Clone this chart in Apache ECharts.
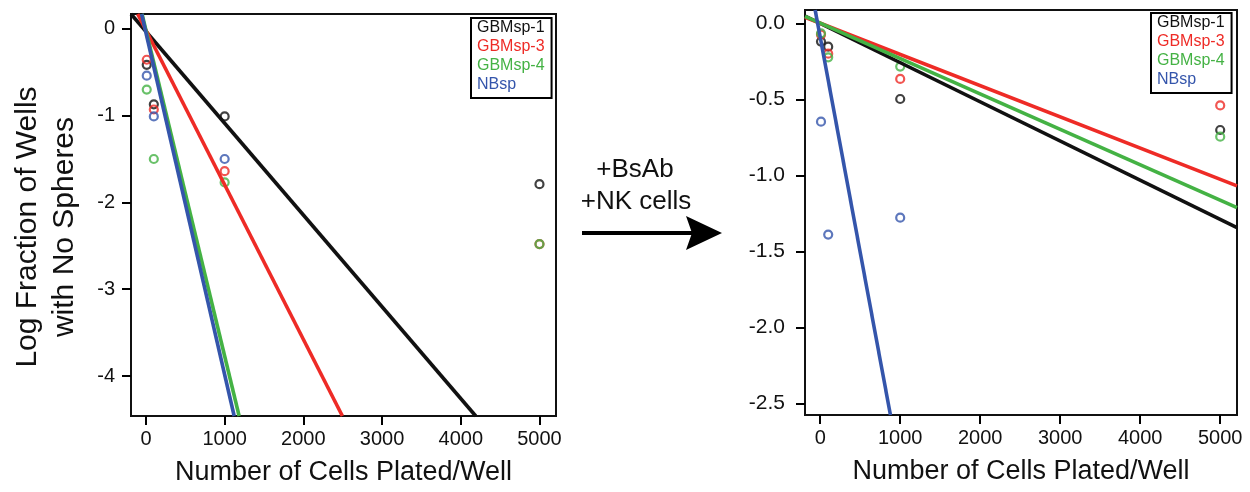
<!DOCTYPE html>
<html>
<head>
<meta charset="UTF-8">
<title>Limiting dilution</title>
<style>
  html, body { margin: 0; padding: 0; background: #fff; }
  #charts { width: 1250px; height: 492px; }
</style>
</head>
<body>
<div id="charts"></div>
<script src="https://cdn.jsdelivr.net/npm/echarts@6/dist/echarts.min.js"></script>
<script>
// cells plated per well
var cellsPlated = [10, 100, 1000, 5000];
var groups = ['GBMsp-1', 'GBMsp-3', 'GBMsp-4', 'NBsp'];
var groupColors = ['#111111', '#ee2b26', '#44b244', '#3455ab'];

// log fraction of wells with no spheres, untreated (left)
var ctrlGBM1 = [-0.415, -0.87, -1.01, -1.79];
var ctrlGBM3 = [-0.357, -0.93, -1.64, -2.48];
var ctrlGBM4 = [-0.70, -1.50, -1.77, -2.48];
var ctrlNB = [-0.54, -1.01, -1.50, null];

// +BsAb +NK cells (right)
var nkGBM1 = [-0.12, -0.154, -0.498, -0.702];
var nkGBM3 = [-0.075, -0.20, -0.366, -0.54];
var nkGBM4 = [-0.066, -0.224, -0.285, -0.746];
var nkNB = [-0.647, -1.39, -1.279, null];

// fitted lines, two end points each [x, y]
var ctrlFits = [
  [[-190, 0.17], [4190, -4.46]],
  [[-105, 0.17], [2496, -4.46]],
  [[-50, 0.17], [1184, -4.46]],
  [[-55, 0.17], [1121, -4.46]]
];
var nkFits = [
  [[-190, 0.048], [5210, -1.345]],
  [[-190, 0.04], [5210, -1.07]],
  [[-190, 0.045], [5210, -1.213]],
  [[-63, 0.0875], [878, -2.577]]
];

var xTicks = [0, 1000, 2000, 3000, 4000, 5000];
var ctrlYTicks = [0, -1, -2, -3, -4];
var nkYTicks = [0, -0.5, -1, -1.5, -2, -2.5];

var mycharts = echarts.init(document.getElementById('charts'));
var FONT = 'Liberation Sans, Arial, sans-serif';

function pts(ys) {
  var res = [];
  for (var i = 0; i < cellsPlated.length; i++) {
    if (ys[i] !== null) res.push([cellsPlated[i], ys[i]]);
  }
  return res;
}

function tickFor(values) {
  return { show: true, inside: false, length: 9, customValues: values.slice(), lineStyle: { color: '#000', width: 2 } };
}

function xAxisFor(idx) {
  return {
    type: 'value', gridIndex: idx, min: -190, max: 5210,
    name: 'Number of Cells Plated/Well', nameLocation: 'middle', nameGap: 43,
    nameTextStyle: { fontSize: 27, color: '#111', fontFamily: FONT },
    axisLine: { show: true, onZero: false, lineStyle: { color: '#111', width: 2 } },
    axisTick: tickFor(xTicks),
    axisLabel: { customValues: xTicks.slice(), margin: 13, fontSize: 20, color: '#111', fontFamily: FONT,
      formatter: function (v) { return String(v); } },
    splitLine: { show: false }
  };
}

var scatterSets = [[ctrlGBM1, ctrlGBM3, ctrlGBM4, ctrlNB], [nkGBM1, nkGBM3, nkGBM4, nkNB]];
var fitSets = [ctrlFits, nkFits];

var series = [];
for (var g = 0; g < 2; g++) {
  for (var i = 0; i < groups.length; i++) {
    series.push({
      name: groups[i], type: 'scatter', xAxisIndex: g, yAxisIndex: g,
      data: pts(scatterSets[g][i]),
      symbol: 'circle', symbolSize: 8, z: 2,
      itemStyle: { color: 'rgba(255,255,255,0)', borderColor: groupColors[i], borderWidth: 2.2 }
    });
  }
  for (var i = 0; i < groups.length; i++) {
    series.push({
      name: groups[i], type: 'line', xAxisIndex: g, yAxisIndex: g,
      data: fitSets[g][i], showSymbol: false, clip: true, z: 3,
      lineStyle: { color: groupColors[i], width: 3.6 },
      itemStyle: { color: groupColors[i] }
    });
  }
}

function legendFor(left, top) {
  return {
    left: left, top: top, orient: 'vertical',
    icon: 'none', itemWidth: 0, itemHeight: 16, itemGap: 3,
    padding: [2, 7, 5, 1],
    borderColor: '#000', borderWidth: 2, backgroundColor: '#fff',
    selectedMode: false,
    textStyle: { fontSize: 16, fontFamily: FONT },
    data: groups.map(function (n, i) { return { name: n, textStyle: { color: groupColors[i] } }; })
  };
}

option = {
  backgroundColor: '#fff',
  animation: false,
  grid: [
    { left: 131, top: 14, width: 425, height: 402, show: true, borderColor: '#111', borderWidth: 2,
      outerBoundsMode: 'none' },
    { left: 805, top: 10, width: 432, height: 405, show: true, borderColor: '#111', borderWidth: 2,
      outerBoundsMode: 'none' }
  ],
  xAxis: [xAxisFor(0), xAxisFor(1)],
  yAxis: [
    {
      type: 'value', gridIndex: 0, min: -4.46, max: 0.17,
      name: 'Log Fraction of Wells\nwith No Spheres', nameLocation: 'middle', nameGap: 48, nameRotate: 90,
      nameTextStyle: { fontSize: 30, lineHeight: 37, color: '#111', fontFamily: FONT, padding: [0, 24, 0, 0] },
      axisLine: { show: true, onZero: false, lineStyle: { color: '#111', width: 2 } },
      axisTick: tickFor(ctrlYTicks),
      axisLabel: { customValues: ctrlYTicks.slice(), margin: 16, fontSize: 20, color: '#111', fontFamily: FONT,
        formatter: function (v) { return String(v); } },
      splitLine: { show: false }
    },
    {
      type: 'value', gridIndex: 1, min: -2.577, max: 0.0875,
      axisLine: { show: true, onZero: false, lineStyle: { color: '#111', width: 2 } },
      axisTick: tickFor(nkYTicks),
      axisLabel: { customValues: nkYTicks.slice(), margin: 20, fontSize: 21, color: '#111', fontFamily: FONT,
        formatter: function (v) { return v.toFixed(1); } },
      splitLine: { show: false }
    }
  ],
  legend: [legendFor(471, 18), legendFor(1151, 13)],
  graphic: [
    { type: 'text', x: 635, y: 170, style: { text: '+BsAb', font: '26px ' + FONT, fill: '#111', textAlign: 'center', textVerticalAlign: 'middle' } },
    { type: 'text', x: 636, y: 202, style: { text: '+NK cells', font: '26px ' + FONT, fill: '#111', textAlign: 'center', textVerticalAlign: 'middle' } },
    { type: 'line', shape: { x1: 582, y1: 233, x2: 694, y2: 233 }, style: { stroke: '#000', lineWidth: 4 } },
    { type: 'polygon', shape: { points: [[722, 233], [686, 216], [692, 233], [686, 250]] }, style: { fill: '#000' } }
  ],
  series: series
};
mycharts.setOption(option);
</script>
</body>
</html>
